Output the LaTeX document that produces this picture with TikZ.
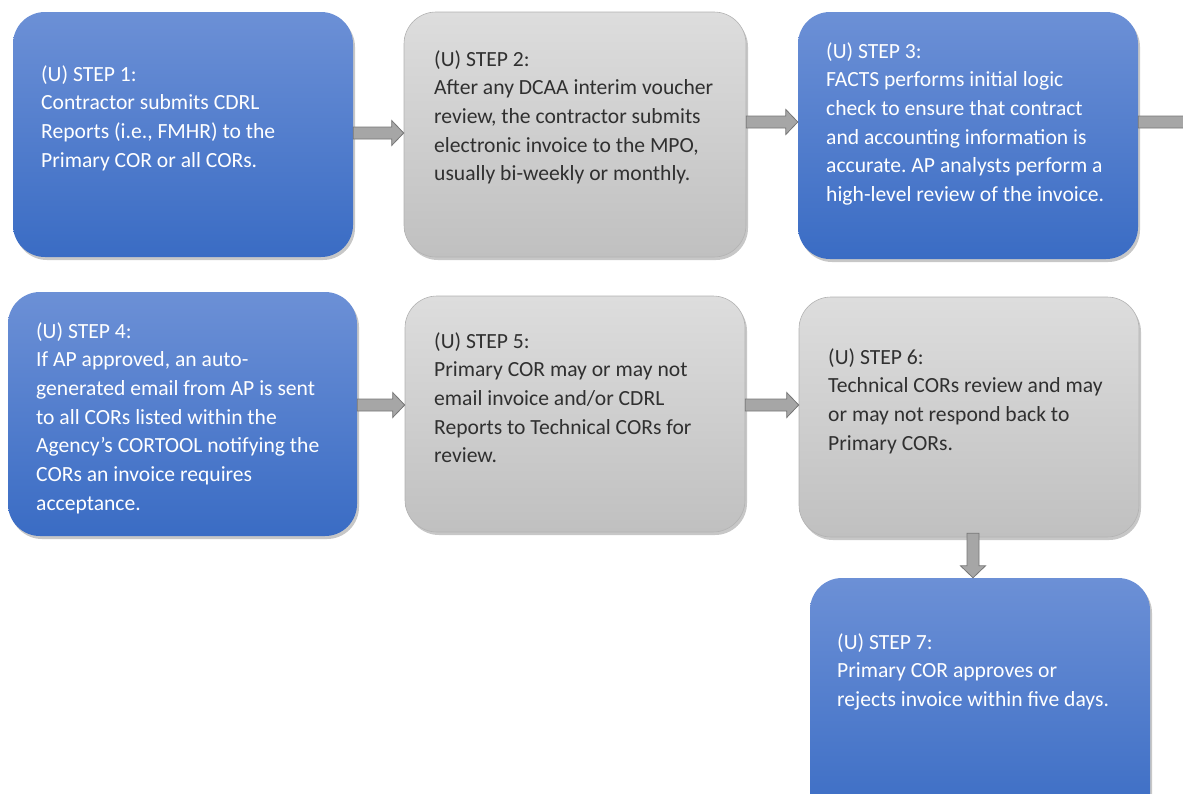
\documentclass[tikz,border=0pt]{standalone}
\usepackage{fontspec}
\setmainfont{Carlito}
\frenchspacing
\usetikzlibrary{calc,shadows}

\definecolor{stepblueA}{RGB}{108,144,214}
\definecolor{stepblueB}{RGB}{58,108,196}
\definecolor{stepgrayA}{RGB}{221,221,221}
\definecolor{stepgrayB}{RGB}{192,192,192}
\definecolor{steptextgray}{RGB}{48,48,48}
\definecolor{arrowfill}{RGB}{166,166,166}
\definecolor{arrowline}{RGB}{118,118,118}

\tikzset{
  stepbase/.style={rounded corners=32pt, inner sep=0pt,
    drop shadow={shadow xshift=2pt, shadow yshift=-3pt, opacity=0.22, fill=black}},
  bluebox/.style={stepbase, top color=stepblueA, bottom color=stepblueB},
  graybox/.style={stepbase, top color=stepgrayA, bottom color=stepgrayB, draw=black!30, line width=0.6pt},
  steptext/.style={anchor=north west, align=left, inner sep=0pt,
    font=\fontsize{21.6}{28.7}\selectfont},
  bluetext/.style={steptext, text=white},
  graytext/.style={steptext, text=steptextgray},
  flowarrow/.style={draw=arrowline, fill=arrowfill, line width=0.8pt,
    to path={let \p1=(\tikztostart), \p2=(\tikztotarget),
      \p3=($(\p2)!12pt!(\p1)$) in
      ($(\p1)!6pt!90:(\p2)$) -- ($(\p3)!6pt!90:(\p2)$) -- ($(\p3)!12.5pt!90:(\p2)$)
      -- (\p2) -- ($(\p3)!12.5pt!-90:(\p2)$) -- ($(\p3)!6pt!-90:(\p2)$)
      -- ($(\p1)!6pt!-90:(\p2)$) -- cycle}}
}

\begin{document}
\begin{tikzpicture}[x=1pt, y=-1pt]
    \clip (0,0) rectangle (1183,793);

    % Boxes
    \node (s1) [bluebox, minimum width=340pt, minimum height=245pt] at (183,134.5) {};
    \node (s2) [graybox, minimum width=342pt, minimum height=245pt] at (575,134.5) {};
    \node (s3) [bluebox, minimum width=340pt, minimum height=247pt] at (968,135.5) {};
    \node (s4) [bluebox, minimum width=349pt, minimum height=244pt] at (182.5,414) {};
    \node (s5) [graybox, minimum width=340pt, minimum height=236pt] at (575,414) {};
    \node (s6) [graybox, minimum width=340pt, minimum height=240pt] at (969,417) {};
    \node (s7) [bluebox, minimum width=340pt, minimum height=250pt] at (980,703) {};
    \coordinate (offpage) at (1200,122);

    % Texts
    \node (t1) [bluetext] at (41,65) {(U) STEP 1:\\Contractor submits CDRL\\Reports (i.e., FMHR) to the\\Primary COR or all CORs.};
    \node (t2) [graytext] at (434,50) {(U) STEP 2:\\After any DCAA interim voucher\\review, the contractor submits\\electronic invoice to the MPO,\\usually bi-weekly or monthly.};
    \node (t3) [bluetext] at (826,42) {(U) STEP 3:\\FACTS performs initial logic\\check to ensure that contract\\and accounting information is\\accurate. AP analysts perform a\\high-level review of the invoice.};
    \node (t4) [bluetext] at (36,322) {(U) STEP 4:\\If AP approved, an auto-\\generated email from AP is sent\\to all CORs listed within the\\Agency’s CORTOOL notifying the\\CORs an invoice requires\\acceptance.};
    \node (t5) [graytext] at (434,332) {(U) STEP 5:\\Primary COR may or may not\\email invoice and/or CDRL\\Reports to Technical CORs for\\review.};
    \node (t6) [graytext] at (828,348) {(U) STEP 6:\\Technical CORs review and may\\or may not respond back to\\Primary CORs.};
    \node (t7) [bluetext] at (837,633) {(U) STEP 7:\\Primary COR approves or\\rejects invoice within five days.};

    % Arrows
    \draw[flowarrow] (s1.east |- 0,133) to (s2.west |- 0,133);
    \draw[flowarrow] (s2.east |- 0,122) to (s3.west |- 0,122);
    \draw[flowarrow] (s3.east |- 0,122) to (offpage);
    \draw[flowarrow] (s4.east |- 0,405) to (s5.west |- 0,405);
    \draw[flowarrow] (s5.east |- 0,405) to (s6.west |- 0,405);
    \draw[flowarrow] ([yshift=4pt]s6.south -| 973,0) to (s7.north -| 973,0);
\end{tikzpicture}
\end{document}
